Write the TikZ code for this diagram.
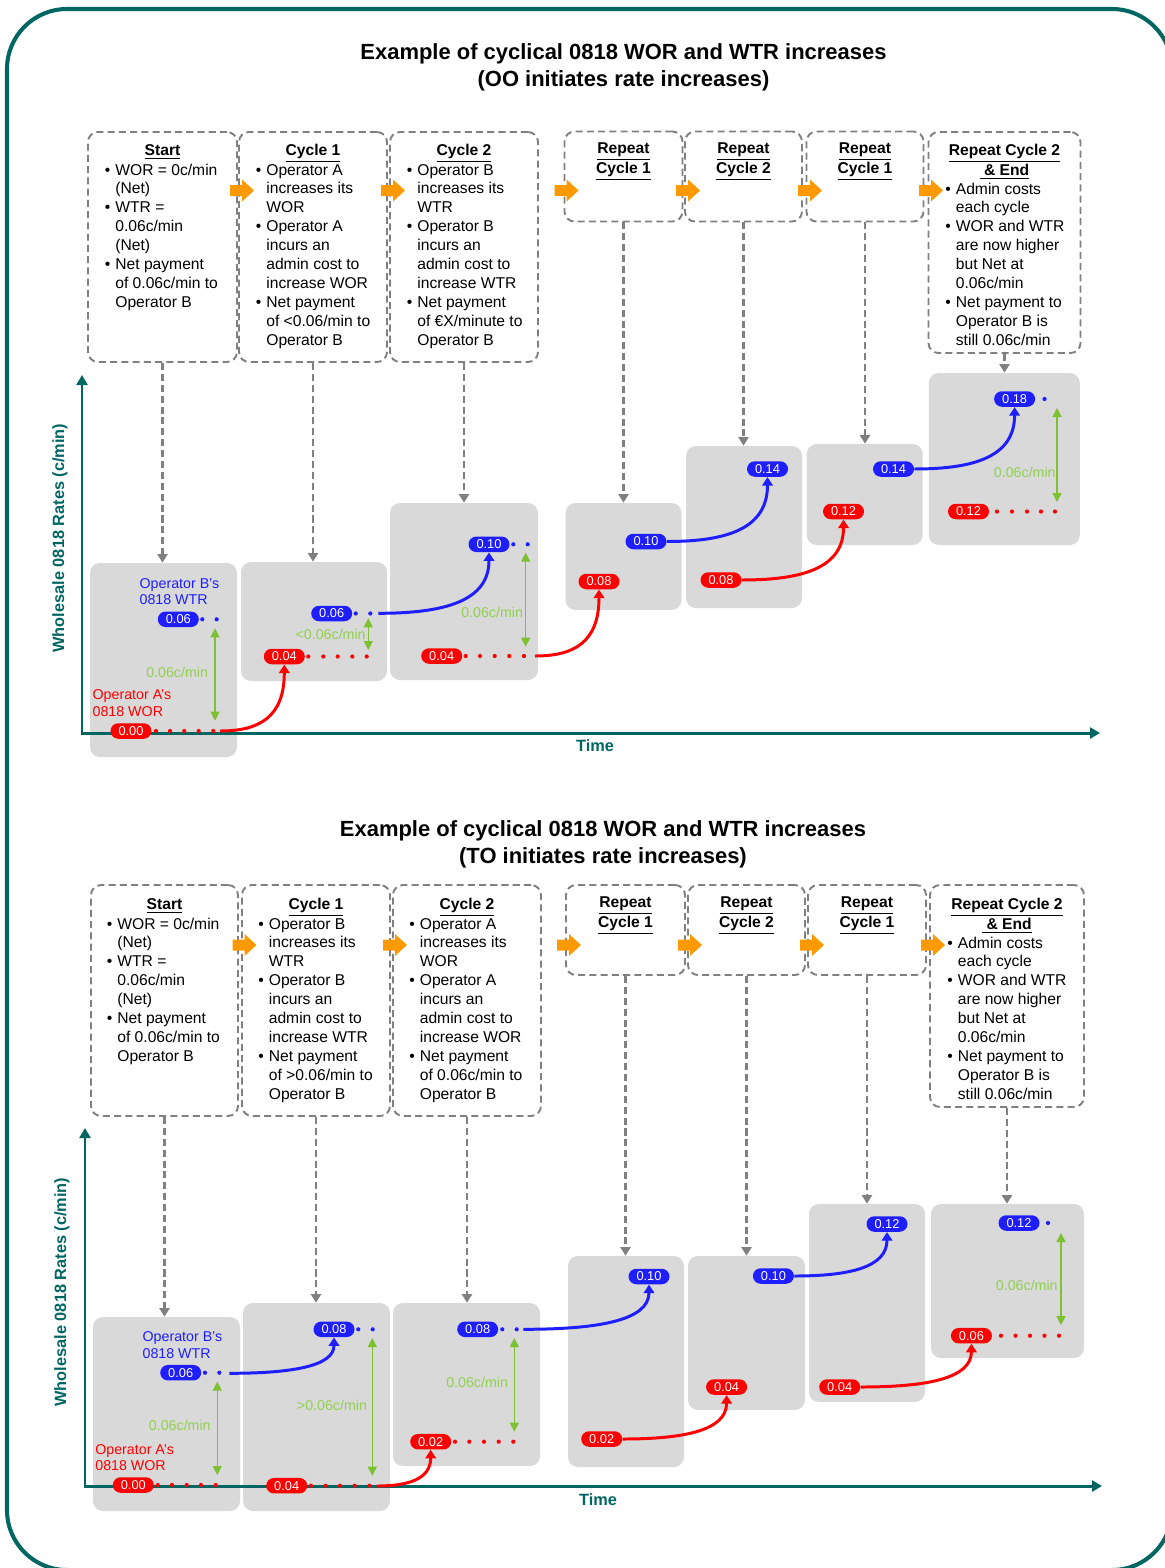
\documentclass[tikz,border=0pt]{standalone}
\usepackage{fontspec}
\setmainfont{Liberation Sans}
\usetikzlibrary{arrows.meta,calc}
\definecolor{frameteal}{RGB}{0,102,98}
\definecolor{dgray}{RGB}{128,128,128}
\definecolor{lgray}{RGB}{217,217,217}
\definecolor{pblue}{RGB}{30,30,255}
\definecolor{pred}{RGB}{255,0,0}
\definecolor{pgreen}{RGB}{146,208,80}
\definecolor{garrow}{RGB}{125,192,50}
\definecolor{porange}{RGB}{255,153,0}
\newcommand\bodyfont{\fontsize{8.9}{10.77}\selectfont}
\newcommand\hdfont{\bfseries\fontsize{8.9}{10.9}\selectfont}
\newcommand\pillfont{\fontsize{7.3}{8}\selectfont}
\newcommand\lblfont{\fontsize{8.1}{9.5}\selectfont}
\newcommand\ttlfont{\bfseries\fontsize{12.5}{15.3}\selectfont}
\newcommand\axfont{\bfseries\fontsize{9.3}{11}\selectfont}
\newcommand\mybul{\makebox[0.19cm][l]{\hspace*{-0.02cm}\textbullet}}
\newcommand\myind{\hspace*{0.19cm}}
\newcommand\rdts[2]{\foreach \xx in {#1}{\fill[pred] (\xx,#2) circle[radius=0.042cm];}}
\newcommand\bdts[2]{\foreach \xx in {#1}{\fill[pblue] (\xx,#2) circle[radius=0.042cm];}}
\newcommand\oarr[2]{\fill[porange] (#1,#2) ++(0,-5.5) -- ++(12,0) -- ++(0,-5.5) -- ++(12,11) -- ++(-12,11) -- ++(0,-5.5) -- ++(-12,0) -- cycle;}
\newcommand\startlist{\begin{tabular}[t]{@{}l@{}}\mybul WOR = 0c/min\\\myind(Net)\\\mybul WTR =\\\myind 0.06c/min\\\myind(Net)\\\mybul Net payment\\\myind of 0.06c/min to\\\myind Operator B\end{tabular}}
\newcommand\finlist{\begin{tabular}[t]{@{}l@{}}\mybul Admin costs\\\myind each cycle\\\mybul WOR and WTR\\\myind are now higher\\\myind but Net at\\\myind 0.06c/min\\\mybul Net payment to\\\myind Operator B is\\\myind still 0.06c/min\end{tabular}}
\newcommand\finhead{\begin{tabular}[t]{@{}c@{}}\underline{Repeat Cycle 2}\\\underline{\ \& End}\end{tabular}}
\newcommand\rephead[1]{\begin{tabular}[t]{@{}c@{}}\underline{Repeat}\\\underline{Cycle #1}\end{tabular}}
\tikzset{
 rise/.style={to path={let \p1=(\tikztostart), \p2=(\tikztotarget) in .. controls ({\x1+0.6*(\x2-\x1)},\y1) and (\x2,{\y2+0.8*(\y1-\y2)}) .. (\tikztotarget)}},
 tbox/.style={draw=dgray, line width=1.1pt, dash pattern=on 4pt off 2.4pt, rounded corners=0.2cm, inner sep=0pt},
 cbox/.style={fill=lgray, rounded corners=0.2cm, inner sep=0pt},
 sz/.style 2 args={minimum width=#1*0.02cm, minimum height=#2*0.02cm},
 conn/.style={draw=dgray, line width=1.5pt, dash pattern=on 4pt off 2.2pt, -{Triangle[width=0.2cm,length=0.17cm]}},
 pill/.style={rounded corners=0.155cm, minimum width=0.82cm, minimum height=0.31cm, inner sep=0pt, text=white, font=\pillfont},
 rp/.style={pill, fill=pred},
 bp/.style={pill, fill=pblue},
 rcurve/.style={draw=pred, line width=1.7pt, -{Triangle[width=0.21cm,length=0.17cm]}},
 bcurve/.style={draw=pblue, line width=1.7pt, -{Triangle[width=0.21cm,length=0.17cm]}},
 gar/.style={draw=garrow, line width=0.75pt, {Triangle[width=0.18cm,length=0.18cm]}-{Triangle[width=0.18cm,length=0.18cm]}},
 glab/.style={text=pgreen, font=\lblfont, inner sep=0pt, anchor=east},
 blab/.style={text=pblue, font=\lblfont, inner sep=0pt, align=left, anchor=west},
 rlab/.style={text=pred, font=\lblfont, inner sep=0pt, align=left, anchor=west},
 axln/.style={draw=frameteal, line width=1.7pt, {Triangle[width=0.22cm,length=0.2cm]}-{Triangle[width=0.22cm,length=0.2cm]}},
 axlab/.style={text=frameteal, font=\axfont, inner sep=0pt},
 ttl/.style={font=\ttlfont, align=center, inner sep=0pt},
 hd/.style={font=\hdfont, inner sep=0pt, anchor=base},
 bl/.style={font=\bodyfont, inner sep=0pt, anchor=base west},
}
\begin{document}
\begin{tikzpicture}[x=0.02cm,y=-0.02cm]
\useasboundingbox (0,0) rectangle (1164,1568);
\draw[frameteal, line width=2.3pt, rounded corners=1.2cm] (7,9) rectangle (1172,1570);

% ================= TOP PANEL =================
\node[ttl] (T1) at (623.5,67.5) {Example of cyclical 0818 WOR and WTR increases\\(OO initiates rate increases)};

\node[tbox, sz={149}{230}] (tS) at (162.5,247) {};
\node[tbox, sz={148}{230}] (tC1) at (313,247) {};
\node[tbox, sz={148}{230}] (tC2) at (464,247) {};
\node[tbox, sz={118}{90}] (tR1) at (623.5,176.5) {};
\node[tbox, sz={117}{90}] (tR2) at (743.5,176.5) {};
\node[tbox, sz={117}{90}] (tR3) at (865,176.5) {};
\node[tbox, sz={152}{221}] (tE) at (1004.5,242.5) {};

\node[hd] (hS) at (162.5,155.5) {\underline{Start}};
\node[hd] (hC1) at (313,155.5) {\underline{Cycle 1}};
\node[hd] (hC2) at (464,155.5) {\underline{Cycle 2}};
\node[hd] (hR1) at (623.5,153.5) {\rephead{1}};
\node[hd] (hR2) at (743.5,153.5) {\rephead{2}};
\node[hd] (hR3) at (865,153.5) {\rephead{1}};
\node[hd] (hE) at (1004.5,155.5) {\finhead};

\node[bl] (bS) at (105.5,175) {\startlist};
\node[bl] (bC1) at (256.5,175) {\begin{tabular}[t]{@{}l@{}}\mybul Operator A\\\myind increases its\\\myind WOR\\\mybul Operator A\\\myind incurs an\\\myind admin cost to\\\myind increase WOR\\\mybul Net payment\\\myind of <0.06/min to\\\myind Operator B\end{tabular}};
\node[bl] (bC2) at (407.5,175) {\begin{tabular}[t]{@{}l@{}}\mybul Operator B\\\myind increases its\\\myind WTR\\\mybul Operator B\\\myind incurs an\\\myind admin cost to\\\myind increase WTR\\\mybul Net payment\\\myind of €X/minute to\\\myind Operator B\end{tabular}};
\node[bl] (bE) at (946,194) {\finlist};

\oarr{230}{190.5}\oarr{381}{190.5}\oarr{554.5}{190.5}\oarr{676}{190.5}\oarr{798}{190.5}\oarr{919}{190.5}

\node[cbox, sz={147}{194}] (cA) at (163.5,660) {};
\node[cbox, sz={146}{119}] (cB) at (314,621.5) {};
\node[cbox, sz={148}{177}] (cC) at (464,591.5) {};
\node[cbox, sz={116}{107}] (cD) at (623.5,556.5) {};
\node[cbox, sz={116}{162}] (cE) at (744,527) {};
\node[cbox, sz={116}{101}] (cF) at (864.7,494.5) {};
\node[cbox, sz={151}{172}] (cG) at (1004.3,459) {};

\draw[conn] (tS.south) -- (tS.south |- cA.north);
\draw[conn] (tC1.south) -- (tC1.south |- cB.north);
\draw[conn] (tC2.south) -- (tC2.south |- cC.north);
\draw[conn] (tR1.south) -- (tR1.south |- cD.north);
\draw[conn] (tR2.south) -- (tR2.south |- cE.north);
\draw[conn] (tR3.south) -- (tR3.south |- cF.north);
\draw[conn] (tE.south) -- (tE.south |- cG.north);

\coordinate (o1) at (82,733);
\draw[axln] (82,375) -- (o1) -- (1100,733);
\node[axlab, rotate=90] (yl1) at (60,538) {Wholesale 0818 Rates (c/min)};
\node[axlab] (xl1) at (595,746) {Time};

\node[blab] (lb1) at (139.3,591.7) {Operator B’s\\0818 WTR};
\node[rlab] (lr1) at (92.3,703.3) {Operator A’s\\0818 WOR};

\rdts{156,170,184.3,198.7,213.3}{731}
\bdts{202.3,216.7}{619.3}
\rdts{308.3,323.3,337.7,352.3,366.7}{656.5}
\bdts{355.7,370.3}{613.5}
\rdts{465.7,480,494.7,509.3,524}{656}
\bdts{513.3,527.7}{544.3}
\rdts{997,1012,1027,1041,1055}{511.5}
\bdts{1044.5}{399}

\coordinate (gA1) at (215,628.3); \coordinate (gA2) at (215,720.7);
\coordinate (gB1) at (368.3,618.3); \coordinate (gB2) at (368.3,650);
\coordinate (gC1) at (525.7,552.7); \coordinate (gC2) at (525.7,646.7);
\coordinate (gG1) at (1057,408); \coordinate (gG2) at (1057,502);
\draw[gar] (gA1) -- (gA2);
\draw[gar] (gB1) -- (gB2);
\draw[gar] (gC1) -- (gC2);
\draw[gar] (gG1) -- (gG2);
\node[glab] (gl1) at (208.3,672.3) {0.06c/min};
\node[glab] (gl2) at (366,634.3) {<0.06c/min};
\node[glab] (gl3) at (523.3,612.3) {0.06c/min};
\node[glab] (gl4) at (1056,472) {0.06c/min};

\node[rp] (r00A) at (131,731) {0.00};
\node[bp] (b06A) at (178.3,619.3) {0.06};
\node[rp] (r04B) at (284.3,656.5) {0.04};
\node[bp] (b06B) at (331.7,613.5) {0.06};
\node[rp] (r04C) at (441.7,656) {0.04};
\node[bp] (b10C) at (489,544.3) {0.10};
\node[rp] (r08D) at (599,581.5) {0.08};
\node[bp] (b10D) at (646,541.5) {0.10};
\node[rp] (r08E) at (721,580) {0.08};
\node[bp] (b14E) at (767.5,469) {0.14};
\node[rp] (r12F) at (843.5,511.5) {0.12};
\node[bp] (b14F) at (893.5,469) {0.14};
\node[rp] (r12G) at (968.5,511.5) {0.12};
\node[bp] (b18G) at (1014.6,399) {0.18};

\coordinate (k1) at (220,731);
\coordinate (k2) at (378.3,613.3);
\coordinate (k3) at (535,656);
\draw[rcurve] (k1) to[rise] (r04B.south);
\draw[bcurve] (k2) to[rise] (b10C.south);
\draw[rcurve] (k3) to[rise] (r08D.south);
\draw[bcurve] (b10D.east) to[rise] (b14E.south);
\draw[rcurve] (r08E.east) to[rise] (r12F.south);
\draw[bcurve] (b14F.east) to[rise] (b18G.south);

% ================= BOTTOM PANEL =================
\node[ttl] (T2) at (603,844.5) {Example of cyclical 0818 WOR and WTR increases\\(TO initiates rate increases)};

\node[tbox, sz={147}{231}] (tS2) at (164.5,1000.5) {};
\node[tbox, sz={148}{231}] (tC12) at (316,1000.5) {};
\node[tbox, sz={148}{231}] (tC22) at (467,1000.5) {};
\node[tbox, sz={119}{90}] (tR12) at (625.5,930) {};
\node[tbox, sz={117}{90}] (tR22) at (746.5,930) {};
\node[tbox, sz={118}{90}] (tR32) at (867,930) {};
\node[tbox, sz={154}{222}] (tE2) at (1007,996) {};

\node[hd] (hS2) at (164.5,909.5) {\underline{Start}};
\node[hd] (hC12) at (316,909.5) {\underline{Cycle 1}};
\node[hd] (hC22) at (467,909.5) {\underline{Cycle 2}};
\node[hd] (hR12) at (625.5,907.5) {\rephead{1}};
\node[hd] (hR22) at (746.5,907.5) {\rephead{2}};
\node[hd] (hR32) at (867,907.5) {\rephead{1}};
\node[hd] (hE2) at (1007,909.5) {\finhead};

\node[bl] (bS2) at (107.5,929) {\startlist};
\node[bl] (bC12) at (259,929) {\begin{tabular}[t]{@{}l@{}}\mybul Operator B\\\myind increases its\\\myind WTR\\\mybul Operator B\\\myind incurs an\\\myind admin cost to\\\myind increase WTR\\\mybul Net payment\\\myind of >0.06/min to\\\myind Operator B\end{tabular}};
\node[bl] (bC22) at (410,929) {\begin{tabular}[t]{@{}l@{}}\mybul Operator A\\\myind increases its\\\myind WOR\\\mybul Operator A\\\myind incurs an\\\myind admin cost to\\\myind increase WOR\\\mybul Net payment\\\myind of 0.06c/min to\\\myind Operator B\end{tabular}};
\node[bl] (bE2) at (948,948) {\finlist};

\oarr{232.5}{945}\oarr{383}{945}\oarr{557}{945}\oarr{678}{945}\oarr{800}{945}\oarr{921}{945}

\node[cbox, sz={147}{194}] (cA2) at (166.5,1414) {};
\node[cbox, sz={147}{208}] (cB2) at (316.5,1407) {};
\node[cbox, sz={147}{163}] (cC2) at (466.5,1384.5) {};
\node[cbox, sz={116}{211}] (cD2) at (626,1361.5) {};
\node[cbox, sz={117}{154}] (cE2) at (746.5,1333) {};
\node[cbox, sz={116}{198}] (cF2) at (867,1303) {};
\node[cbox, sz={153}{154}] (cG2) at (1007.5,1281) {};

\draw[conn] (tS2.south) -- (tS2.south |- cA2.north);
\draw[conn] (tC12.south) -- (tC12.south |- cB2.north);
\draw[conn] (tC22.south) -- (tC22.south |- cC2.north);
\draw[conn] (tR12.south) -- (tR12.south |- cD2.north);
\draw[conn] (tR22.south) -- (tR22.south |- cE2.north);
\draw[conn] (tR32.south) -- (tR32.south |- cF2.north);
\draw[conn] (tE2.south) -- (tE2.south |- cG2.north);

\coordinate (o2) at (85,1486);
\draw[axln] (85,1128) -- (o2) -- (1102,1486);
\node[axlab, rotate=90] (yl2) at (62,1292) {Wholesale 0818 Rates (c/min)};
\node[axlab] (xl2) at (598,1500) {Time};

\node[blab] (lb2) at (142.3,1345) {Operator B’s\\0818 WTR};
\node[rlab] (lr2) at (95,1457.5) {Operator A’s\\0818 WOR};

\rdts{157.7,172,186.7,201,215.7}{1485}
\bdts{205,219.3}{1372.7}
\rdts{311,325.7,340,354.7,369.3}{1485.7}
\bdts{358.3,372.7}{1329.3}
\rdts{455,469.3,484,498.7,513.3}{1441.7}
\bdts{502.3,516.7}{1329.3}
\rdts{1001,1015.5,1030,1044.5,1059}{1335.7}
\bdts{1048}{1223}

\coordinate (hA1) at (217.3,1381.7); \coordinate (hA2) at (217.3,1475);
\coordinate (hB1) at (372.3,1338); \coordinate (hB2) at (372.3,1475.7);
\coordinate (hC1) at (514.3,1338); \coordinate (hC2) at (514.3,1431.7);
\coordinate (hG1) at (1061,1233); \coordinate (hG2) at (1061,1325);
\draw[gar] (hA1) -- (hA2);
\draw[gar] (hB1) -- (hB2);
\draw[gar] (hC1) -- (hC2);
\draw[gar] (hG1) -- (hG2);
\node[glab] (gl5) at (211,1425) {0.06c/min};
\node[glab] (gl6) at (367.3,1405) {>0.06c/min};
\node[glab] (gl7) at (508.3,1382.3) {0.06c/min};
\node[glab] (gl8) at (1058,1285) {0.06c/min};

\node[rp] (r00A2) at (133.3,1485) {0.00};
\node[bp] (b06A2) at (180.7,1372.7) {0.06};
\node[rp] (r04B2) at (286.7,1485.7) {0.04};
\node[bp] (b08B2) at (334,1329.3) {0.08};
\node[rp] (r02C2) at (430.7,1441.7) {0.02};
\node[bp] (b08C2) at (477.7,1329.3) {0.08};
\node[rp] (r02D2) at (601.7,1439) {0.02};
\node[bp] (b10D2) at (649,1276.5) {0.10};
\node[rp] (r04E2) at (726.6,1387) {0.04};
\node[bp] (b10E2) at (773.4,1276) {0.10};
\node[rp] (r04F2) at (839.7,1387) {0.04};
\node[bp] (b12F2) at (887,1224) {0.12};
\node[rp] (r06G2) at (971.4,1335.7) {0.06};
\node[bp] (b12G2) at (1019,1223) {0.12};

\coordinate (k7) at (229.3,1373.3);
\coordinate (k8) at (376.7,1486);
\coordinate (k9) at (523.3,1329.3);
\draw[bcurve] (k7) to[rise] (b08B2.south);
\draw[rcurve] (k8) to[rise] (r02C2.south);
\draw[bcurve] (k9) to[rise] (b10D2.south);
\draw[rcurve] (r02D2.east) to[rise] (r04E2.south);
\draw[bcurve] (b10E2.east) to[rise] (b12F2.south);
\draw[rcurve] (r04F2.east) to[rise] (r06G2.south);
\end{tikzpicture}
\end{document}
